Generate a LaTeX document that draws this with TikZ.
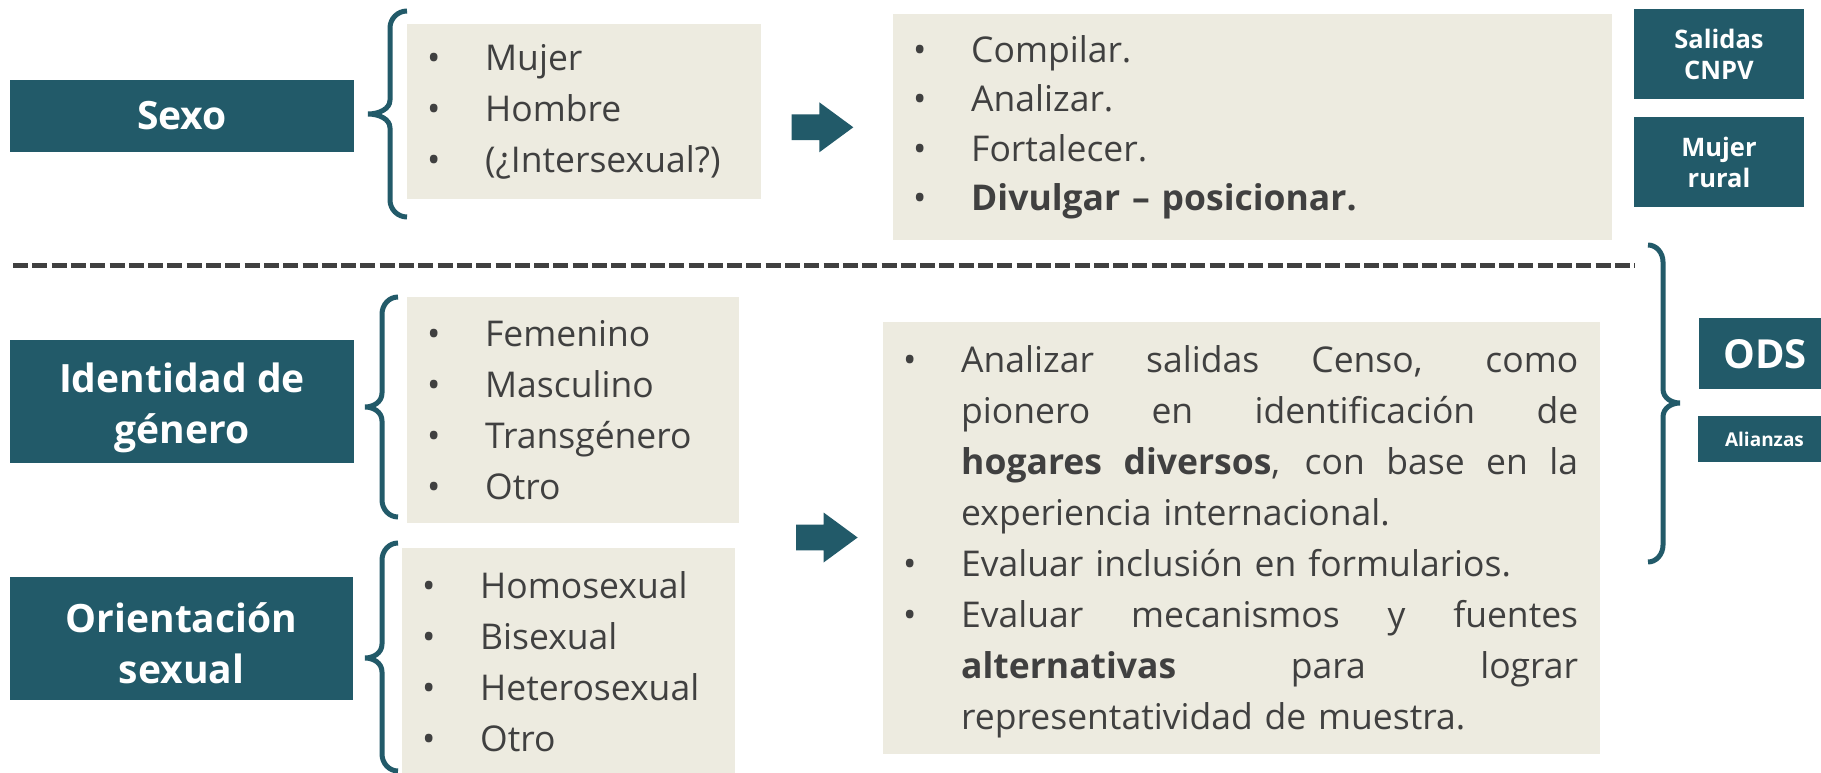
\documentclass[tikz,border=0pt]{standalone}
\usepackage{fontspec}
\setmainfont{Open Sans}
\definecolor{teal1}{HTML}{225A69}
\definecolor{beige}{HTML}{EDEBE0}
\definecolor{txt}{HTML}{404040}
\newcommand\bul{\makebox[53pt]{•}\hspace{25pt}}
\newcommand\ind{\hspace*{78pt}}
\newcommand\jline[1]{\makebox[617pt][s]{\spaceskip=0pt\xspaceskip=0pt #1}}
% xe xb xt top ym bot
\newcommand\curlybrace[6]{%
  \draw[bracestyle] (#1,#4) .. controls ({#2+0.45*(#1-#2)},#4) and (#2,{#4+7.6}) .. (#2,{#4+17})
    -- (#2,{#5-14}) .. controls (#2,{#5-5}) and ({#3+0.5*(#2-#3)},#5) .. (#3,#5)
    .. controls ({#3+0.5*(#2-#3)},#5) and (#2,{#5+5}) .. (#2,{#5+14})
    -- (#2,{#6-17}) .. controls (#2,{#6-7.6}) and ({#2+0.45*(#1-#2)},#6) .. (#1,#6);}
\newcommand\blockarrow[2]{%
  \fill[teal1] (#1,{#2-12.8}) -- ({#1+27.6},{#2-12.8}) -- ({#1+27.6},{#2-25}) -- ({#1+61.6},#2)
    -- ({#1+27.6},{#2+25}) -- ({#1+27.6},{#2+12.8}) -- (#1,{#2+12.8}) -- cycle;}
\begin{document}
\begin{tikzpicture}[x=1pt,y=-1pt,
  titlebox/.style={fill=teal1,text=white,align=center,inner sep=0pt,font=\bfseries\fontsize{39}{51}\selectfont},
  smallbox/.style={titlebox,minimum width=170pt,minimum height=90pt,font=\bfseries\fontsize{25.5}{31}\selectfont},
  listbox/.style={fill=beige,text=txt,align=left,inner sep=0pt,anchor=north west,font=\fontsize{35.5}{51}\selectfont},
  bracestyle/.style={draw=teal1,line width=5pt},
]
\useasboundingbox (0,0) rectangle (1821,773);
\fill[white] (0,0) rectangle (1821,773);

% title boxes
\node[titlebox,minimum width=344pt,minimum height=72pt] (sexo) at (182,116) {Sexo};
\node[titlebox,minimum width=344pt,minimum height=123pt] (ident) at (182,401.5) {\rule{0pt}{42pt}Identidad de\\género};
\node[titlebox,minimum width=343pt,minimum height=123pt] (orient) at (181.5,638.5) {\rule{0pt}{39pt}Orientación\\sexual};
\node[smallbox] (salidas) at (1719,54) {Salidas\\CNPV};
\node[smallbox] (mrural) at (1719,162) {Mujer\\rural};
\node[titlebox,minimum width=132pt,minimum height=71pt,font=\bfseries\fontsize{40}{48}\selectfont] (ods) at (1765,353.7) {ODS};
\node[titlebox,minimum width=133pt,minimum height=46pt,font=\bfseries\fontsize{19}{23}\selectfont] (alianzas) at (1764.5,439) {Alianzas};

% list boxes
\node[listbox,text width=354pt,minimum height=175pt] (l1) at (407,24)
  {\bul Mujer\\\bul Hombre\\\bul (¿Intersexual?)};
\node[listbox,text width=719pt,minimum height=226pt,font=\fontsize{35.5}{49.5}\selectfont] (l2) at (893,14)
  {\bul Compilar.\\\bul Analizar.\\\bul Fortalecer.\\\bul\textbf{Divulgar – posicionar.}};
\node[listbox,text width=332pt,minimum height=226pt] (l3) at (407,297)
  {\bul Femenino\\\bul Masculino\\\bul Transgénero\\\bul Otro};
\node[listbox,text width=333pt,minimum height=226pt] (l4) at (402,548)
  {\bul Homosexual\\\bul Bisexual\\\bul Heterosexual\\\bul Otro};
\node[listbox,text width=717pt,minimum height=432pt] (big) at (883,322)
  {\rule{0pt}{34pt}\bul\jline{Analizar salidas Censo, como}\\
   \ind\jline{pionero en identificación de}\\
   \ind\jline{\textbf{hogares diversos}, con base en la}\\
   \ind experiencia internacional.\\
   \bul Evaluar inclusión en formularios.\\
   \bul\jline{Evaluar mecanismos y fuentes}\\
   \ind\jline{\textbf{alternativas} para lograr}\\
   \ind representatividad de muestra.};

% dashed separator
\coordinate (dashL) at (13,265.5);
\coordinate (dashR) at (1635,265.5);
\draw[draw=txt,line width=4.3pt,dash pattern=on 15pt off 4.3pt] (dashL) -- (dashR);

% braces
\curlybrace{407}{390}{368}{11}{114}{217}
\curlybrace{398}{382}{365}{297}{407}{517}
\curlybrace{398}{382}{365}{543}{658}{771}
\curlybrace{1648}{1663}{1680}{245}{403}{562}

% block arrows
\blockarrow{791.7}{127.3}
\blockarrow{796}{537.5}
\end{tikzpicture}
\end{document}
